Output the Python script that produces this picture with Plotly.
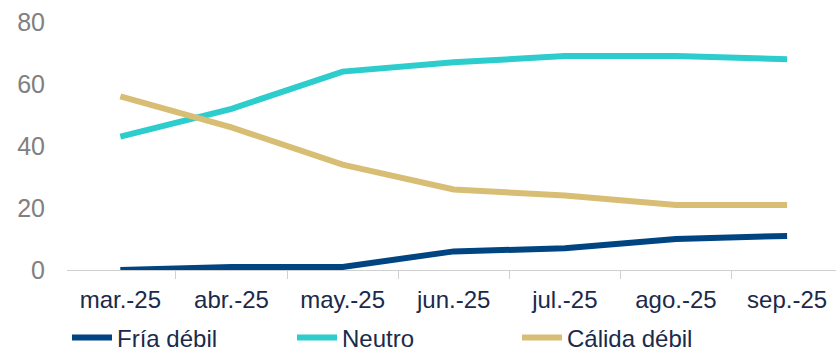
import plotly.graph_objects as go

meses = ["mar.-25", "abr.-25", "may.-25", "jun.-25", "jul.-25", "ago.-25", "sep.-25"]
fria_debil = [0, 1, 1, 6, 7, 10, 11]
neutro = [43, 52, 64, 67, 69, 69, 68]
calida_debil = [56, 46, 34, 26, 24, 21, 21]

narrow = "Liberation Sans Narrow, Arial Narrow, Liberation Sans, Arial, sans-serif"

fig = go.Figure()
fig.add_trace(go.Scatter(x=meses, y=fria_debil, name="Fría débil", mode="lines",
                         line=dict(color="#004481", width=6)))
fig.add_trace(go.Scatter(x=meses, y=neutro, name="Neutro", mode="lines",
                         line=dict(color="#2DCCCD", width=6)))
fig.add_trace(go.Scatter(x=meses, y=calida_debil, name="Cálida débil", mode="lines",
                         line=dict(color="#D8BE75", width=6)))

fig.update_layout(
    width=836, height=351,
    margin=dict(l=67, r=0, t=22, b=81, autoexpand=False),
    plot_bgcolor="white", paper_bgcolor="white",
    showlegend=True,
    legend=dict(orientation="h", x=0.0, xanchor="left", xref="paper",
                y=0.037, yanchor="middle", yref="container",
                font=dict(family=narrow, size=24, color="#1B2A4A"),
                itemwidth=40, entrywidth=170, entrywidthmode="pixels",
                tracegroupgap=0),
)
fig.update_xaxes(
    range=[-0.48, 6.44], showgrid=False, showline=True, linecolor="#D0D0D0", linewidth=1,
    ticks="outside", tickson="boundaries", ticklen=8, tickcolor="#D0D0D0",
    tickfont=dict(family=narrow, size=24, color="#1B2A4A"),
    ticklabelstandoff=8, automargin=False,
)
fig.update_yaxes(
    range=[0, 80], dtick=20, showgrid=False, zeroline=False, showline=False,
    tickfont=dict(family="Liberation Sans, Arial, sans-serif", size=25, color="#808080"),
    ticklabelstandoff=21, automargin=False,
)

# the page has a default 8px body margin; drop it so the figure fills the window
fig.write_html("out.html", config={"displayModeBar": False},
               post_script="document.body.style.margin='0';")
